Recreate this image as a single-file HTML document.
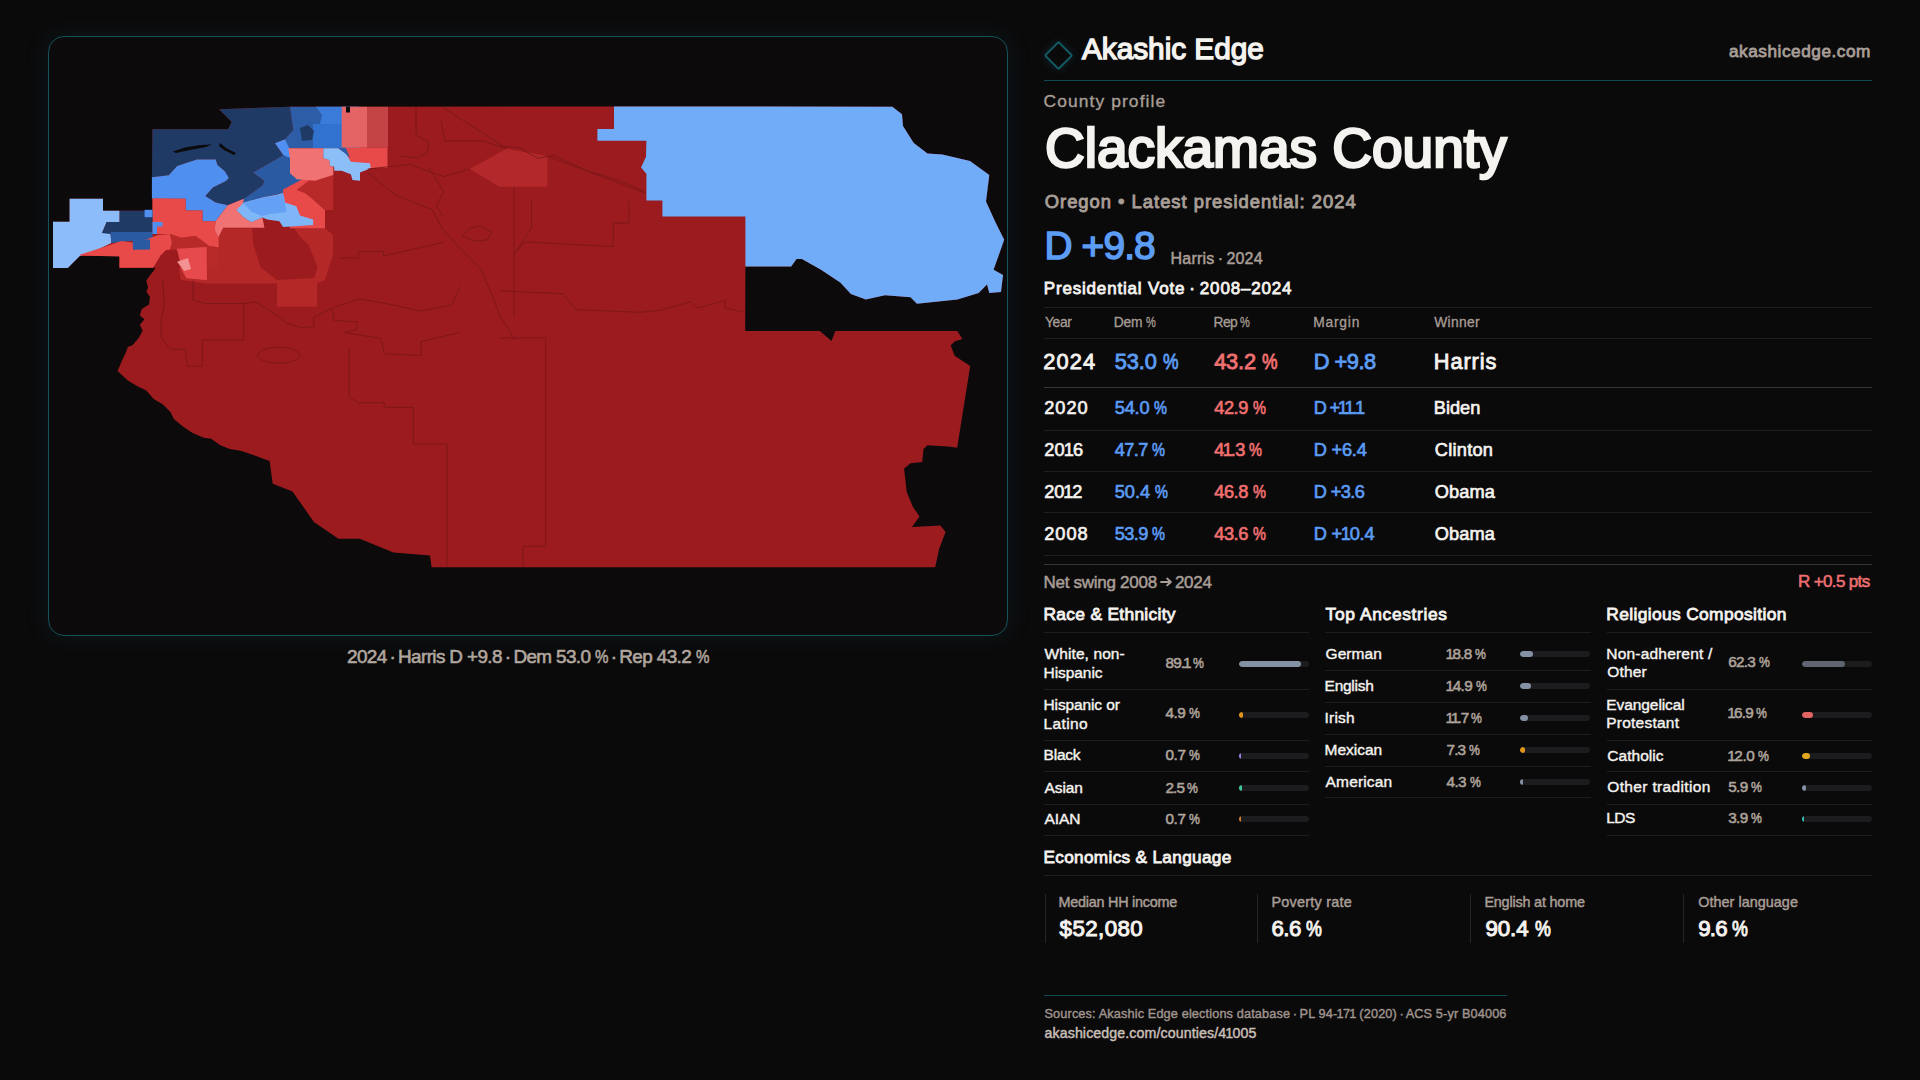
<!DOCTYPE html>
<html><head><meta charset="utf-8"><title>Clackamas County</title>
<style>
html,body{margin:0;padding:0;}
body{width:1920px;height:1080px;background:#0b0a0b;position:relative;overflow:hidden;font-family:"Liberation Sans",sans-serif;}
.t{position:absolute;}
.map{position:absolute;left:0;top:0;}
.ln{position:absolute;height:1px;}
</style></head><body>
<div style="position:absolute;left:48px;top:36px;width:958px;height:598px;border:1px solid #14525c;border-radius:16px;background:#0c0a0b;box-shadow:0 0 22px 2px rgba(20,90,100,0.16);"></div>
<div style="position:absolute;left:1048px;top:45.3px;width:17px;height:17px;border:2px solid #125a63;transform:rotate(45deg);border-radius:2px;box-shadow:0 0 10px rgba(20,110,120,0.25);"></div>
<div class="ln" style="left:1044px;top:80px;width:828px;height:1px;background:#0f4a53;"></div>
<div class="ln" style="left:1044px;top:307px;width:828px;height:1px;background:#201e20;"></div>
<div class="ln" style="left:1044px;top:338px;width:828px;height:1px;background:#201e20;"></div>
<div class="ln" style="left:1044px;top:430px;width:828px;height:1px;background:#201e20;"></div>
<div class="ln" style="left:1044px;top:471px;width:828px;height:1px;background:#201e20;"></div>
<div class="ln" style="left:1044px;top:512px;width:828px;height:1px;background:#201e20;"></div>
<div class="ln" style="left:1044px;top:555px;width:828px;height:1px;background:#201e20;"></div>
<div class="ln" style="left:1044px;top:387px;width:828px;height:1px;background:#363436;"></div>
<div class="ln" style="left:1044px;top:564px;width:828px;height:1px;background:#363436;"></div>
<div class="ln" style="left:1044px;top:632px;width:265.3px;height:1px;background:#1f1d1f;"></div>
<div class="ln" style="left:1044px;top:689px;width:265.3px;height:1px;background:#1f1d1f;"></div>
<div class="ln" style="left:1044px;top:740px;width:265.3px;height:1px;background:#1f1d1f;"></div>
<div class="ln" style="left:1044px;top:771px;width:265.3px;height:1px;background:#1f1d1f;"></div>
<div class="ln" style="left:1044px;top:804px;width:265.3px;height:1px;background:#1f1d1f;"></div>
<div class="ln" style="left:1044px;top:835px;width:265.3px;height:1px;background:#1f1d1f;"></div>
<div class="ln" style="left:1325.3px;top:632px;width:265.3px;height:1px;background:#1f1d1f;"></div>
<div class="ln" style="left:1325.3px;top:670px;width:265.3px;height:1px;background:#1f1d1f;"></div>
<div class="ln" style="left:1325.3px;top:702px;width:265.3px;height:1px;background:#1f1d1f;"></div>
<div class="ln" style="left:1325.3px;top:734px;width:265.3px;height:1px;background:#1f1d1f;"></div>
<div class="ln" style="left:1325.3px;top:766px;width:265.3px;height:1px;background:#1f1d1f;"></div>
<div class="ln" style="left:1325.3px;top:797px;width:265.3px;height:1px;background:#1f1d1f;"></div>
<div class="ln" style="left:1606.7px;top:632px;width:265.3px;height:1px;background:#1f1d1f;"></div>
<div class="ln" style="left:1606.7px;top:689px;width:265.3px;height:1px;background:#1f1d1f;"></div>
<div class="ln" style="left:1606.7px;top:740px;width:265.3px;height:1px;background:#1f1d1f;"></div>
<div class="ln" style="left:1606.7px;top:771px;width:265.3px;height:1px;background:#1f1d1f;"></div>
<div class="ln" style="left:1606.7px;top:804px;width:265.3px;height:1px;background:#1f1d1f;"></div>
<div class="ln" style="left:1606.7px;top:835px;width:265.3px;height:1px;background:#1f1d1f;"></div>
<div style="position:absolute;left:1239px;top:661px;width:70px;height:6px;border-radius:3px;background:#1c1b1d;overflow:hidden;"><div style="width:62.4px;height:6px;border-radius:3px;background:#8491a4;"></div></div>
<div style="position:absolute;left:1239px;top:712px;width:70px;height:6px;border-radius:3px;background:#1c1b1d;overflow:hidden;"><div style="width:4.4px;height:6px;border-radius:3px;background:#e0961a;"></div></div>
<div style="position:absolute;left:1239px;top:752.7px;width:70px;height:6px;border-radius:3px;background:#1c1b1d;overflow:hidden;"><div style="width:1.5px;height:6px;border-radius:3px;background:#9b7fe0;"></div></div>
<div style="position:absolute;left:1239px;top:785px;width:70px;height:6px;border-radius:3px;background:#1c1b1d;overflow:hidden;"><div style="width:2.5px;height:6px;border-radius:3px;background:#3cc8a0;"></div></div>
<div style="position:absolute;left:1239px;top:815.7px;width:70px;height:6px;border-radius:3px;background:#1c1b1d;overflow:hidden;"><div style="width:1.5px;height:6px;border-radius:3px;background:#d0802a;"></div></div>
<div style="position:absolute;left:1520.3px;top:650.8px;width:70px;height:6px;border-radius:3px;background:#1c1b1d;overflow:hidden;"><div style="width:13.2px;height:6px;border-radius:3px;background:#8491a4;"></div></div>
<div style="position:absolute;left:1520.3px;top:682.8px;width:70px;height:6px;border-radius:3px;background:#1c1b1d;overflow:hidden;"><div style="width:10.4px;height:6px;border-radius:3px;background:#8491a4;"></div></div>
<div style="position:absolute;left:1520.3px;top:714.9px;width:70px;height:6px;border-radius:3px;background:#1c1b1d;overflow:hidden;"><div style="width:8.2px;height:6px;border-radius:3px;background:#8491a4;"></div></div>
<div style="position:absolute;left:1520.3px;top:746.9px;width:70px;height:6px;border-radius:3px;background:#1c1b1d;overflow:hidden;"><div style="width:5.1px;height:6px;border-radius:3px;background:#e0961a;"></div></div>
<div style="position:absolute;left:1520.3px;top:778.9px;width:70px;height:6px;border-radius:3px;background:#1c1b1d;overflow:hidden;"><div style="width:3px;height:6px;border-radius:3px;background:#8491a4;"></div></div>
<div style="position:absolute;left:1801.7px;top:661px;width:70px;height:6px;border-radius:3px;background:#1c1b1d;overflow:hidden;"><div style="width:43.6px;height:6px;border-radius:3px;background:#5f6672;"></div></div>
<div style="position:absolute;left:1801.7px;top:712px;width:70px;height:6px;border-radius:3px;background:#1c1b1d;overflow:hidden;"><div style="width:11.8px;height:6px;border-radius:3px;background:#e06464;"></div></div>
<div style="position:absolute;left:1801.7px;top:753px;width:70px;height:6px;border-radius:3px;background:#1c1b1d;overflow:hidden;"><div style="width:8.4px;height:6px;border-radius:3px;background:#e0a820;"></div></div>
<div style="position:absolute;left:1801.7px;top:784.8px;width:70px;height:6px;border-radius:3px;background:#1c1b1d;overflow:hidden;"><div style="width:4px;height:6px;border-radius:3px;background:#8491a4;"></div></div>
<div style="position:absolute;left:1801.7px;top:815.7px;width:70px;height:6px;border-radius:3px;background:#1c1b1d;overflow:hidden;"><div style="width:2.7px;height:6px;border-radius:3px;background:#30c0b0;"></div></div>
<div class="ln" style="left:1044px;top:875px;width:828px;height:1px;background:#201e20;"></div>
<div style="position:absolute;left:1044.5px;top:894px;width:1px;height:49px;background:#262425;"></div>
<div style="position:absolute;left:1257.4px;top:894px;width:1px;height:49px;background:#262425;"></div>
<div style="position:absolute;left:1470.4px;top:894px;width:1px;height:49px;background:#262425;"></div>
<div style="position:absolute;left:1683.4px;top:894px;width:1px;height:49px;background:#262425;"></div>
<div class="ln" style="left:1044px;top:995px;width:463px;height:1px;background:#0f4a53;"></div>
<svg class="map" width="1920" height="1080" viewBox="0 0 1920 1080"><polygon fill="#9b1b1e" points="219.2,109.2 290.0,106.8 614.0,106.5 892.4,106.7 902.0,114.2 903.0,125.9 913.7,143.0 927.5,153.6 942.4,154.6 970.0,161.0 989.3,174.9 986.0,201.5 995.7,222.8 1004.2,239.8 993.6,269.7 1003.0,275.0 1001.0,292.0 989.3,293.0 987.0,284.6 978.7,293.0 957.4,299.5 916.9,303.7 910.5,297.3 885.0,295.2 865.8,299.5 850.9,294.0 840.2,282.4 821.0,269.7 801.9,259.0 796.5,259.0 791.2,266.5 745.4,266.5 745.2,331.1 819.8,331.1 831.5,341.0 835.4,331.1 957.2,331.1 962.4,338.9 954.6,341.5 950.7,345.4 954.6,355.7 970.2,366.1 957.2,447.8 948.2,446.5 927.4,445.2 923.5,449.0 922.2,462.0 910.6,463.3 904.1,468.5 906.7,491.9 913.2,507.4 919.6,516.5 911.9,526.9 940.4,525.6 945.6,532.0 939.1,548.9 935.2,567.3 431.6,567.3 430.0,555.6 393.4,552.6 359.8,538.8 338.4,538.8 313.9,522.0 292.5,491.4 272.7,483.8 269.6,460.9 266.7,460.0 251.9,454.4 240.7,450.7 229.6,448.9 220.4,445.2 211.1,438.7 203.7,437.8 192.6,433.1 183.3,426.7 174.0,419.3 170.4,411.9 163.0,404.4 153.7,398.9 146.3,390.6 137.0,385.9 127.8,380.4 117.6,371.1 122.2,360.0 125.9,352.6 127.8,347.0 132.4,345.2 138.9,337.8 142.6,330.4 139.8,324.8 144.4,319.3 139.8,315.6 141.7,309.0 149.0,304.4 150.0,297.0 146.3,291.5 148.1,287.8 146.3,280.4 149.0,276.7 153.7,271.1 155.6,267.8 119.6,268.0 119.6,256.0 79.8,256.0 67.8,268.0 53.0,268.0 53.0,221.8 69.6,221.8 69.6,198.7 103.0,198.7 103.0,210.7 152.5,210.7 152.5,129.2 228.3,129.2 231.7,121.7" /><polygon fill="#71acf8" points="614.0,106.5 892.4,106.7 902.0,114.2 903.0,125.9 913.7,143.0 927.5,153.6 942.4,154.6 970.0,161.0 989.3,174.9 986.0,201.5 995.7,222.8 1004.2,239.8 993.6,269.7 1003.0,275.0 1001.0,292.0 989.3,293.0 987.0,284.6 978.7,293.0 957.4,299.5 916.9,303.7 910.5,297.3 885.0,295.2 865.8,299.5 850.9,294.0 840.2,282.4 821.0,269.7 801.9,259.0 796.5,259.0 791.2,266.5 745.4,266.5 745.4,216.4 662.4,216.4 662.4,200.4 646.4,200.4 646.4,173.8 641.0,167.4 646.0,156.8 646.4,140.8 597.4,140.8 597.4,129.0 614.0,129.0" /><polygon fill="#b3292b" points="469.6,169.0 506.7,148.7 547.4,156.0 547.4,186.7 499.0,186.7 485.0,178.0" /><polygon fill="#b52828" points="218.3,228.3 325.0,228.3 333.0,235.0 333.0,255.0 325.0,280.0 317.0,283.0 317.0,306.5 277.0,306.5 277.0,283.6 207.0,283.6 180.7,280.0 177.0,261.7 169.6,248.7 169.6,235.7" /><polygon fill="#9b1b1e" points="251.7,220.0 291.9,224.6 299.0,235.7 308.5,245.0 317.8,267.0 314.0,278.0 277.0,280.0 260.4,267.0 253.0,243.0" /><polygon fill="#e64a4c" points="177.0,248.7 206.7,246.9 206.7,280.0 186.3,278.0 177.0,261.7" /><polygon fill="#f29292" points="177.0,261.7 188.0,258.0 191.0,269.0 184.4,271.0" /><polygon fill="#1f3a64" points="219.2,109.2 290.0,106.7 293.3,130.0 285.0,139.2 275.0,143.3 283.3,155.0 274.7,160.3 253.1,172.5 264.4,181.0 262.5,185.6 243.8,198.8 227.8,205.3 215.6,202.5 205.3,195.9 212.8,187.5 225.9,181.0 228.8,178.1 225.0,171.6 217.5,165.0 215.6,159.4 196.9,159.4 177.2,166.0 168.8,175.3 151.9,177.2 152.5,129.2 228.3,129.2 231.7,121.7" /><polygon fill="#0b0a0c" points="173.0,151.5 185.0,147.5 200.0,145.0 212.0,144.5 206.0,147.0 190.0,150.0 176.0,153.0" /><polygon fill="#0b0a0c" points="220.0,143.0 226.0,148.0 236.0,153.0 234.0,155.0 224.0,150.0 219.0,146.0" /><polygon fill="#2c5da6" points="290.0,106.7 359.0,106.7 359.0,148.3 287.0,148.3 285.0,139.2 293.3,130.0" /><polygon fill="#3272cf" points="313.0,124.0 359.0,124.0 359.0,148.3 313.0,148.3" /><polygon fill="#3a7ad8" points="316.0,106.8 359.0,106.8 359.0,124.0 320.0,124.0 322.0,115.0" /><polygon fill="#1f3a64" points="300.0,128.0 308.0,125.0 314.0,131.0 312.0,140.0 302.0,141.0" /><polygon fill="#4f90f2" points="275.0,143.3 285.0,139.2 290.0,150.0 290.0,160.0 283.3,155.0" /><polygon fill="#2a5aa2" points="253.1,172.5 274.7,160.3 283.3,155.0 290.0,158.0 292.0,160.0 300.0,172.0 306.0,178.1 283.1,193.1 264.4,197.0 243.8,203.0 236.0,210.0 230.0,205.0 243.8,198.8 262.5,185.6 264.4,181.0" /><polygon fill="#4f8ff0" points="151.9,177.2 168.8,175.3 177.2,166.0 196.9,159.4 215.6,159.4 217.5,165.0 225.0,171.6 228.8,178.1 225.9,181.0 212.8,187.5 205.3,195.9 215.6,202.5 227.8,205.3 215.6,221.2 202.5,221.2 202.5,210.5 185.6,210.5 185.6,198.8 151.9,198.8" /><polygon fill="#e84a4a" points="152.5,198.3 185.6,198.8 185.6,210.5 202.5,210.5 202.5,221.2 215.6,221.2 214.7,229.7 218.4,237.2 218.8,247.2 209.4,246.2 201.9,240.6 195.3,235.9 181.2,237.8 170.0,234.0 152.5,234.0" /><polygon fill="#e84a4a" points="283.1,189.4 304.7,178.1 312.0,176.0 315.0,190.0 311.7,198.3 325.0,210.0 325.0,228.3 290.0,228.3 283.1,205.0" /><polygon fill="#b82a2a" points="296.7,190.0 311.7,178.3 333.3,175.0 333.3,210.0 325.0,210.0 311.7,198.3 305.0,193.3" /><polygon fill="#f07272" points="227.8,205.3 243.8,198.8 242.8,205.3 236.3,210.0 243.8,217.5 251.3,222.2 262.5,217.5 264.4,227.8 223.1,227.8 218.4,237.2 214.7,229.7 215.6,221.2" /><polygon fill="#7fb6f8" points="236.3,210.0 243.8,202.5 264.4,196.9 275.6,195.0 283.1,193.1 285.0,202.5 296.3,206.3 300.0,215.6 313.1,219.4 313.1,225.0 283.1,226.9 279.4,221.2 267.2,219.4 262.5,217.5 251.3,222.2 243.8,217.5" /><polygon fill="#64a0f4" points="243.0,203.0 264.4,197.5 283.1,194.0 285.0,203.0 286.5,212.0 270.0,214.0 262.0,216.0 252.0,212.0" /><polygon fill="#f07272" points="288.3,148.3 323.3,148.3 323.3,158.3 329.2,160.0 330.0,165.8 333.3,166.7 333.3,175.0 325.0,177.5 315.0,180.8 305.0,180.0 296.7,179.2 290.0,173.3 290.0,158.3" /><polygon fill="#e84a4a" points="345.0,147.5 387.5,147.5 387.5,168.0 370.0,168.0 350.0,165.0" /><polygon fill="#8cbef8" points="323.3,148.3 338.3,148.3 345.8,153.3 350.8,161.7 370.0,163.3 370.8,168.3 360.0,172.5 360.0,180.8 352.5,180.0 350.8,174.2 341.7,170.8 334.2,170.8 334.2,166.7 330.0,165.8 329.2,160.0 323.3,158.3" /><polygon fill="#2c5da6" points="338.3,148.3 346.0,148.3 350.0,158.0 346.0,154.0" /><polygon fill="#c44446" points="367.0,106.8 388.0,106.8 388.0,147.5 367.0,147.5" /><polygon fill="#e46466" points="341.7,106.8 367.0,106.8 367.0,147.5 341.7,147.5" /><polygon fill="#0b0a0c" points="346.0,106.5 350.0,106.5 350.0,112.5 346.0,112.5" /><polygon fill="#8cbcfa" points="69.6,198.7 103.0,198.7 103.0,210.7 119.6,210.7 119.6,221.9 106.7,221.9 102.0,233.0 110.4,232.0 111.3,243.1 95.6,250.6 79.8,256.1 67.8,268.0 53.0,268.0 53.0,221.8 69.6,221.8" /><polygon fill="#1f3a64" points="119.6,210.7 152.5,210.7 152.5,234.0 110.4,234.0 102.0,233.0 106.7,221.9 119.6,221.9" /><polygon fill="#2a5aa2" points="110.4,232.0 152.5,232.0 152.5,240.0 130.0,241.0 111.3,243.1" /><polygon fill="#4f8ff0" points="144.6,209.8 152.5,209.8 152.5,217.2 144.6,217.2" /><polygon fill="#e84a4a" points="79.7,254.7 106.2,246.2 121.2,241.1 132.5,242.5 143.7,240.6 157.8,235.0 170.0,234.0 172.0,242.5 170.0,250.0 160.6,255.6 153.1,267.8 119.4,267.8 119.4,256.6 80.0,255.6" /><polygon fill="#b82a2a" points="170.0,234.0 181.2,237.8 195.3,235.9 201.9,240.6 209.4,246.2 218.8,247.2 218.8,268.0 180.0,268.0 172.0,262.0 170.0,250.0 172.0,242.5" /><polygon fill="#9b1b1e" points="155.6,267.8 160.6,255.6 166.0,250.0 176.0,249.5 180.0,256.0 179.0,282.0 149.0,282.0 149.0,276.7 153.7,271.1" /><polygon fill="#e64a4c" points="177.0,248.7 206.7,246.9 206.7,280.0 186.3,278.0 180.0,261.7" /><polygon fill="#f29292" points="177.0,261.7 188.0,258.0 191.0,269.0 184.4,271.0" /><polygon fill="#4f8ff0" points="152.5,222.0 162.5,222.0 162.5,226.6 157.0,226.6 157.0,234.0 152.5,234.0" /><polygon fill="#2a5aa2" points="132.6,240.0 150.0,239.4 150.0,249.6 133.0,249.8" /><polyline fill="none" stroke="#7c1619" stroke-width="0.9" points="416.0,107.0 416.0,135.0 428.9,141.5 427.0,152.4 417.8,158.0 401.0,156.0"/><polyline fill="none" stroke="#7c1619" stroke-width="0.9" points="442.8,107.0 506.7,148.7"/><polyline fill="none" stroke="#7c1619" stroke-width="0.9" points="441.0,121.0 445.0,141.0 484.0,141.0 505.0,148.0"/><polyline fill="none" stroke="#7c1619" stroke-width="0.9" points="547.4,156.0 645.6,193.0"/><polyline fill="none" stroke="#7c1619" stroke-width="0.9" points="367.8,169.0 410.4,164.4 427.0,171.0 443.7,176.5 469.6,169.0"/><polyline fill="none" stroke="#7c1619" stroke-width="0.9" points="367.8,172.8 395.6,195.0 432.6,209.8 441.9,228.3 454.8,243.1 480.7,269.0 491.9,295.0 500.0,316.0 515.0,340.0"/><polyline fill="none" stroke="#7c1619" stroke-width="0.9" points="428.9,168.0 443.7,191.3 436.3,206.0 443.7,217.2"/><polyline fill="none" stroke="#7c1619" stroke-width="0.9" points="514.0,187.6 514.0,316.0"/><polyline fill="none" stroke="#7c1619" stroke-width="0.9" points="531.5,199.4 531.5,227.7 514.0,254.5"/><polyline fill="none" stroke="#7c1619" stroke-width="0.9" points="629.0,201.0 629.0,223.0 613.3,223.0 613.3,246.6 525.0,241.9 514.0,254.3"/><polyline fill="none" stroke="#7c1619" stroke-width="0.9" points="340.0,258.0 358.5,258.0 358.5,251.5 383.5,251.5 383.5,256.0 443.7,242.2"/><polyline fill="none" stroke="#7c1619" stroke-width="0.9" points="500.0,290.7 563.0,293.8 575.5,309.6 640.0,312.3 661.3,310.1 691.1,301.6 697.5,308.0 725.2,300.5 725.2,308.0 744.4,312.3"/><polyline fill="none" stroke="#7c1619" stroke-width="0.9" points="500.0,338.0 545.7,338.0 545.7,546.3 522.9,546.3 522.9,567.4"/><polyline fill="none" stroke="#7c1619" stroke-width="0.9" points="500.0,146.0 518.9,147.5 537.8,158.5 553.5,155.3 588.1,171.0 619.6,180.5 644.8,191.5"/><polyline fill="none" stroke="#7c1619" stroke-width="0.9" points="162.7,279.0 164.2,305.0 161.1,320.3 161.1,337.1 170.3,349.3 185.6,349.3 187.1,366.1 202.4,366.1 202.4,340.2 243.6,340.2 243.6,303.5"/><polyline fill="none" stroke="#7c1619" stroke-width="0.9" points="193.2,280.6 193.2,300.4 205.4,303.5 243.6,303.5 255.9,302.0 277.3,315.7 286.4,323.3 303.2,328.0 313.9,326.4 313.9,317.2 332.3,308.1 359.8,298.9 393.4,305.0 420.9,311.1 451.5,305.0 460.0,286.7"/><polyline fill="none" stroke="#7c1619" stroke-width="0.9" points="332.3,308.1 333.8,320.3 356.7,321.8 356.7,329.5 344.5,332.5 381.2,338.6 384.2,353.9 420.9,355.4 420.9,341.7 460.0,332.5"/><polyline fill="none" stroke="#7c1619" stroke-width="0.9" points="349.1,347.8 349.1,396.7 358.3,402.8 384.2,402.8 384.2,407.4 413.3,407.4 413.3,444.1 446.9,444.1 446.9,567.3"/><ellipse cx="278.8" cy="355.2" rx="21" ry="8" fill="none" stroke="#7c1619" stroke-width="0.9"/><polyline fill="none" stroke="#7c1619" stroke-width="0.9" points="470.0,228.0 480.0,226.0 492.0,232.0 487.0,240.0 475.0,241.0 462.0,236.0 470.0,228.0"/></svg>
<div class=t style="left:1082.00px;top:34.00px;color:#f5f3ef;font-family:'Liberation Sans',sans-serif;font-size:29.8px;line-height:29.8px;font-weight:400;letter-spacing:-0.036px;white-space:nowrap;-webkit-text-stroke:1.4px currentColor;">Akashic Edge</div>
<div class=t style="left:1729.00px;top:43.00px;color:#a89e96;font-family:'Liberation Sans',sans-serif;font-size:17.2px;line-height:17.2px;font-weight:400;letter-spacing:0.543px;white-space:nowrap;-webkit-text-stroke:0.8px currentColor;">akashicedge.com</div>
<div class=t style="left:1043.50px;top:93.00px;color:#a89e96;font-family:'Liberation Sans',sans-serif;font-size:17.4px;line-height:17.4px;font-weight:400;letter-spacing:1.108px;white-space:nowrap;-webkit-text-stroke:0.35px currentColor;">County profile</div>
<div class=t style="left:1045.00px;top:121.00px;color:#f5f3ef;font-family:'Liberation Sans',sans-serif;font-size:55px;line-height:55px;font-weight:400;letter-spacing:0.000px;white-space:nowrap;-webkit-text-stroke:2.6px currentColor;">Clackamas County</div>
<div class=t style="left:1044.75px;top:193.00px;color:#a89e96;font-family:'Liberation Sans',sans-serif;font-size:18.4px;line-height:18.4px;font-weight:400;letter-spacing:0.985px;white-space:nowrap;-webkit-text-stroke:0.9px currentColor;">Oregon • Latest presidential: 2024</div>
<div class=t style="left:1044.50px;top:227.00px;color:#5b9cf5;font-family:'Liberation Sans',sans-serif;font-size:38.8px;line-height:38.8px;font-weight:400;letter-spacing:-0.840px;white-space:nowrap;-webkit-text-stroke:1.5px currentColor;">D +9.8</div>
<div class=t style="left:1170.60px;top:251.00px;color:#a89e96;font-family:'Liberation Sans',sans-serif;font-size:16px;line-height:16px;font-weight:400;letter-spacing:0.200px;white-space:nowrap;-webkit-text-stroke:0.5px currentColor;">Harris <span style="margin:0 -0.09em">·</span> 2024</div>
<div class=t style="left:1043.75px;top:280.00px;color:#f5f3ef;font-family:'Liberation Sans',sans-serif;font-size:17px;line-height:17px;font-weight:400;letter-spacing:0.821px;white-space:nowrap;-webkit-text-stroke:0.8px currentColor;">Presidential Vote <span style="margin:0 -0.09em">·</span> 2008–2024</div>
<div class=t style="left:1045.00px;top:316.00px;color:#a89e96;font-family:'Liberation Sans',sans-serif;font-size:13.8px;line-height:13.8px;font-weight:400;letter-spacing:-0.333px;white-space:nowrap;-webkit-text-stroke:0.3px currentColor;">Year</div>
<div class=t style="left:1113.75px;top:316.00px;color:#a89e96;font-family:'Liberation Sans',sans-serif;font-size:13.8px;line-height:13.8px;font-weight:400;letter-spacing:-0.150px;white-space:nowrap;-webkit-text-stroke:0.3px currentColor;">Dem <span style="display:inline-block;transform:scaleX(0.8);transform-origin:0 0;margin-right:-0.178em">%</span></div>
<div class=t style="left:1213.60px;top:316.00px;color:#a89e96;font-family:'Liberation Sans',sans-serif;font-size:13.8px;line-height:13.8px;font-weight:400;letter-spacing:-0.600px;white-space:nowrap;-webkit-text-stroke:0.3px currentColor;">Rep <span style="display:inline-block;transform:scaleX(0.8);transform-origin:0 0;margin-right:-0.178em">%</span></div>
<div class=t style="left:1313.20px;top:316.00px;color:#a89e96;font-family:'Liberation Sans',sans-serif;font-size:13.8px;line-height:13.8px;font-weight:400;letter-spacing:0.800px;white-space:nowrap;-webkit-text-stroke:0.3px currentColor;">Margin</div>
<div class=t style="left:1434.20px;top:316.00px;color:#a89e96;font-family:'Liberation Sans',sans-serif;font-size:13.8px;line-height:13.8px;font-weight:400;letter-spacing:0.320px;white-space:nowrap;-webkit-text-stroke:0.3px currentColor;">Winner</div>
<div class=t style="left:1043.25px;top:351.00px;color:#f5f3ef;font-family:'Liberation Sans',sans-serif;font-size:21.8px;line-height:21.8px;font-weight:400;letter-spacing:1.167px;white-space:nowrap;-webkit-text-stroke:0.85px currentColor;">2024</div>
<div class=t style="left:1114.75px;top:351.00px;color:#5b9cf5;font-family:'Liberation Sans',sans-serif;font-size:21.8px;line-height:21.8px;font-weight:400;letter-spacing:-0.100px;white-space:nowrap;-webkit-text-stroke:0.85px currentColor;">53.0 <span style="display:inline-block;transform:scaleX(0.8);transform-origin:0 0;margin-right:-0.178em">%</span></div>
<div class=t style="left:1214.20px;top:351.00px;color:#f07070;font-family:'Liberation Sans',sans-serif;font-size:21.8px;line-height:21.8px;font-weight:400;letter-spacing:-0.200px;white-space:nowrap;-webkit-text-stroke:0.85px currentColor;">43.2 <span style="display:inline-block;transform:scaleX(0.8);transform-origin:0 0;margin-right:-0.178em">%</span></div>
<div class=t style="left:1313.75px;top:351.00px;color:#5b9cf5;font-family:'Liberation Sans',sans-serif;font-size:21.8px;line-height:21.8px;font-weight:400;letter-spacing:-0.500px;white-space:nowrap;-webkit-text-stroke:0.85px currentColor;">D +9.8</div>
<div class=t style="left:1433.75px;top:351.00px;color:#f5f3ef;font-family:'Liberation Sans',sans-serif;font-size:21.8px;line-height:21.8px;font-weight:400;letter-spacing:0.900px;white-space:nowrap;-webkit-text-stroke:0.85px currentColor;">Harris</div>
<div class=t style="left:1044.25px;top:399.00px;color:#f5f3ef;font-family:'Liberation Sans',sans-serif;font-size:18.2px;line-height:18.2px;font-weight:400;letter-spacing:1.000px;white-space:nowrap;-webkit-text-stroke:0.65px currentColor;">2020</div>
<div class=t style="left:1114.75px;top:399.00px;color:#5b9cf5;font-family:'Liberation Sans',sans-serif;font-size:18.2px;line-height:18.2px;font-weight:400;letter-spacing:-0.200px;white-space:nowrap;-webkit-text-stroke:0.65px currentColor;">54.0 <span style="display:inline-block;transform:scaleX(0.8);transform-origin:0 0;margin-right:-0.178em">%</span></div>
<div class=t style="left:1214.20px;top:399.00px;color:#f07070;font-family:'Liberation Sans',sans-serif;font-size:18.2px;line-height:18.2px;font-weight:400;letter-spacing:-0.400px;white-space:nowrap;-webkit-text-stroke:0.65px currentColor;">42.9 <span style="display:inline-block;transform:scaleX(0.8);transform-origin:0 0;margin-right:-0.178em">%</span></div>
<div class=t style="left:1313.75px;top:399.00px;color:#5b9cf5;font-family:'Liberation Sans',sans-serif;font-size:18.2px;line-height:18.2px;font-weight:400;letter-spacing:-1.167px;white-space:nowrap;-webkit-text-stroke:0.65px currentColor;">D +<span style="margin:0 -0.06em 0 -0.07em">1</span><span style="margin:0 -0.06em 0 -0.07em">1</span>.<span style="margin:0 -0.06em 0 -0.07em">1</span></div>
<div class=t style="left:1433.75px;top:399.00px;color:#f5f3ef;font-family:'Liberation Sans',sans-serif;font-size:18.2px;line-height:18.2px;font-weight:400;letter-spacing:0.000px;white-space:nowrap;-webkit-text-stroke:0.65px currentColor;">Biden</div>
<div class=t style="left:1044.25px;top:441.00px;color:#f5f3ef;font-family:'Liberation Sans',sans-serif;font-size:18.2px;line-height:18.2px;font-weight:400;letter-spacing:0.200px;white-space:nowrap;-webkit-text-stroke:0.65px currentColor;">20<span style="margin:0 -0.06em 0 -0.07em">1</span>6</div>
<div class=t style="left:1114.75px;top:441.00px;color:#5b9cf5;font-family:'Liberation Sans',sans-serif;font-size:18.2px;line-height:18.2px;font-weight:400;letter-spacing:-0.600px;white-space:nowrap;-webkit-text-stroke:0.65px currentColor;">47.7 <span style="display:inline-block;transform:scaleX(0.8);transform-origin:0 0;margin-right:-0.178em">%</span></div>
<div class=t style="left:1214.20px;top:441.00px;color:#f07070;font-family:'Liberation Sans',sans-serif;font-size:18.2px;line-height:18.2px;font-weight:400;letter-spacing:-0.640px;white-space:nowrap;-webkit-text-stroke:0.65px currentColor;">4<span style="margin:0 -0.06em 0 -0.07em">1</span>.3 <span style="display:inline-block;transform:scaleX(0.8);transform-origin:0 0;margin-right:-0.178em">%</span></div>
<div class=t style="left:1313.75px;top:441.00px;color:#5b9cf5;font-family:'Liberation Sans',sans-serif;font-size:18.2px;line-height:18.2px;font-weight:400;letter-spacing:-0.200px;white-space:nowrap;-webkit-text-stroke:0.65px currentColor;">D +6.4</div>
<div class=t style="left:1434.75px;top:441.00px;color:#f5f3ef;font-family:'Liberation Sans',sans-serif;font-size:18.2px;line-height:18.2px;font-weight:400;letter-spacing:0.267px;white-space:nowrap;-webkit-text-stroke:0.65px currentColor;">Clinton</div>
<div class=t style="left:1044.25px;top:483.00px;color:#f5f3ef;font-family:'Liberation Sans',sans-serif;font-size:18.2px;line-height:18.2px;font-weight:400;letter-spacing:0.000px;white-space:nowrap;-webkit-text-stroke:0.65px currentColor;">20<span style="margin:0 -0.06em 0 -0.07em">1</span>2</div>
<div class=t style="left:1114.75px;top:483.00px;color:#5b9cf5;font-family:'Liberation Sans',sans-serif;font-size:18.2px;line-height:18.2px;font-weight:400;letter-spacing:0.000px;white-space:nowrap;-webkit-text-stroke:0.65px currentColor;">50.4 <span style="display:inline-block;transform:scaleX(0.8);transform-origin:0 0;margin-right:-0.178em">%</span></div>
<div class=t style="left:1214.20px;top:483.00px;color:#f07070;font-family:'Liberation Sans',sans-serif;font-size:18.2px;line-height:18.2px;font-weight:400;letter-spacing:-0.400px;white-space:nowrap;-webkit-text-stroke:0.65px currentColor;">46.8 <span style="display:inline-block;transform:scaleX(0.8);transform-origin:0 0;margin-right:-0.178em">%</span></div>
<div class=t style="left:1313.75px;top:483.00px;color:#5b9cf5;font-family:'Liberation Sans',sans-serif;font-size:18.2px;line-height:18.2px;font-weight:400;letter-spacing:-0.600px;white-space:nowrap;-webkit-text-stroke:0.65px currentColor;">D +3.6</div>
<div class=t style="left:1434.75px;top:483.00px;color:#f5f3ef;font-family:'Liberation Sans',sans-serif;font-size:18.2px;line-height:18.2px;font-weight:400;letter-spacing:0.125px;white-space:nowrap;-webkit-text-stroke:0.65px currentColor;">Obama</div>
<div class=t style="left:1044.25px;top:525.00px;color:#f5f3ef;font-family:'Liberation Sans',sans-serif;font-size:18.2px;line-height:18.2px;font-weight:400;letter-spacing:1.000px;white-space:nowrap;-webkit-text-stroke:0.65px currentColor;">2008</div>
<div class=t style="left:1114.75px;top:525.00px;color:#5b9cf5;font-family:'Liberation Sans',sans-serif;font-size:18.2px;line-height:18.2px;font-weight:400;letter-spacing:-0.600px;white-space:nowrap;-webkit-text-stroke:0.65px currentColor;">53.9 <span style="display:inline-block;transform:scaleX(0.8);transform-origin:0 0;margin-right:-0.178em">%</span></div>
<div class=t style="left:1214.20px;top:525.00px;color:#f07070;font-family:'Liberation Sans',sans-serif;font-size:18.2px;line-height:18.2px;font-weight:400;letter-spacing:-0.400px;white-space:nowrap;-webkit-text-stroke:0.65px currentColor;">43.6 <span style="display:inline-block;transform:scaleX(0.8);transform-origin:0 0;margin-right:-0.178em">%</span></div>
<div class=t style="left:1313.75px;top:525.00px;color:#5b9cf5;font-family:'Liberation Sans',sans-serif;font-size:18.2px;line-height:18.2px;font-weight:400;letter-spacing:-0.167px;white-space:nowrap;-webkit-text-stroke:0.65px currentColor;">D +<span style="margin:0 -0.06em 0 -0.07em">1</span>0.4</div>
<div class=t style="left:1434.75px;top:525.00px;color:#f5f3ef;font-family:'Liberation Sans',sans-serif;font-size:18.2px;line-height:18.2px;font-weight:400;letter-spacing:0.125px;white-space:nowrap;-webkit-text-stroke:0.65px currentColor;">Obama</div>
<div class=t style="left:1043.50px;top:574.00px;color:#a89e96;font-family:'Liberation Sans',sans-serif;font-size:17px;line-height:17px;font-weight:400;letter-spacing:-0.275px;white-space:nowrap;-webkit-text-stroke:0.5px currentColor;">Net swing 2008 <svg style="display:inline-block;width:0.74em;height:0.7em;margin:0 -0.1em" viewBox="0 0 74 70"><path d="M6 35H64M42 15L64 35L42 55" fill="none" stroke="currentColor" stroke-width="11" stroke-linecap="round" stroke-linejoin="round"/></svg> 2024</div>
<div class=t style="left:1798.00px;top:573.00px;color:#f07070;font-family:'Liberation Sans',sans-serif;font-size:17px;line-height:17px;font-weight:400;letter-spacing:-0.644px;white-space:nowrap;-webkit-text-stroke:0.55px currentColor;">R +0.5 pts</div>
<div class=t style="left:1043.50px;top:606.00px;color:#f5f3ef;font-family:'Liberation Sans',sans-serif;font-size:17.4px;line-height:17.4px;font-weight:400;letter-spacing:0.293px;white-space:nowrap;-webkit-text-stroke:0.8px currentColor;">Race &amp; Ethnicity</div>
<div class=t style="left:1325.60px;top:606.00px;color:#f5f3ef;font-family:'Liberation Sans',sans-serif;font-size:17.4px;line-height:17.4px;font-weight:400;letter-spacing:0.631px;white-space:nowrap;-webkit-text-stroke:0.8px currentColor;">Top Ancestries</div>
<div class=t style="left:1606.30px;top:606.00px;color:#f5f3ef;font-family:'Liberation Sans',sans-serif;font-size:17.4px;line-height:17.4px;font-weight:400;letter-spacing:0.350px;white-space:nowrap;-webkit-text-stroke:0.8px currentColor;">Religious Composition</div>
<div class=t style="left:1044.50px;top:646.00px;color:#f5f3ef;font-family:'Liberation Sans',sans-serif;font-size:15.5px;line-height:15.5px;font-weight:400;letter-spacing:0.100px;white-space:nowrap;-webkit-text-stroke:0.4px currentColor;">White, non-</div>
<div class=t style="left:1043.50px;top:665.00px;color:#f5f3ef;font-family:'Liberation Sans',sans-serif;font-size:15.5px;line-height:15.5px;font-weight:400;letter-spacing:-0.057px;white-space:nowrap;-webkit-text-stroke:0.4px currentColor;">Hispanic</div>
<div class=t style="left:1165.50px;top:655.00px;color:#aea39b;font-family:'Liberation Sans',sans-serif;font-size:15.3px;line-height:15.3px;font-weight:400;letter-spacing:-0.880px;white-space:nowrap;-webkit-text-stroke:0.55px currentColor;">89.<span style="margin:0 -0.06em 0 -0.07em">1</span> <span style="display:inline-block;transform:scaleX(0.8);transform-origin:0 0;margin-right:-0.178em">%</span></div>
<div class=t style="left:1043.50px;top:697.00px;color:#f5f3ef;font-family:'Liberation Sans',sans-serif;font-size:15.5px;line-height:15.5px;font-weight:400;letter-spacing:-0.120px;white-space:nowrap;-webkit-text-stroke:0.4px currentColor;">Hispanic or</div>
<div class=t style="left:1043.50px;top:716.00px;color:#f5f3ef;font-family:'Liberation Sans',sans-serif;font-size:15.5px;line-height:15.5px;font-weight:400;letter-spacing:0.360px;white-space:nowrap;-webkit-text-stroke:0.4px currentColor;">Latino</div>
<div class=t style="left:1165.50px;top:705.00px;color:#aea39b;font-family:'Liberation Sans',sans-serif;font-size:15.3px;line-height:15.3px;font-weight:400;letter-spacing:-0.550px;white-space:nowrap;-webkit-text-stroke:0.55px currentColor;">4.9 <span style="display:inline-block;transform:scaleX(0.8);transform-origin:0 0;margin-right:-0.178em">%</span></div>
<div class=t style="left:1043.50px;top:747.00px;color:#f5f3ef;font-family:'Liberation Sans',sans-serif;font-size:15.5px;line-height:15.5px;font-weight:400;letter-spacing:-0.200px;white-space:nowrap;-webkit-text-stroke:0.4px currentColor;">Black</div>
<div class=t style="left:1165.50px;top:747.00px;color:#aea39b;font-family:'Liberation Sans',sans-serif;font-size:15.3px;line-height:15.3px;font-weight:400;letter-spacing:-0.400px;white-space:nowrap;-webkit-text-stroke:0.55px currentColor;">0.7 <span style="display:inline-block;transform:scaleX(0.8);transform-origin:0 0;margin-right:-0.178em">%</span></div>
<div class=t style="left:1044.50px;top:780.00px;color:#f5f3ef;font-family:'Liberation Sans',sans-serif;font-size:15.5px;line-height:15.5px;font-weight:400;letter-spacing:-0.100px;white-space:nowrap;-webkit-text-stroke:0.4px currentColor;">Asian</div>
<div class=t style="left:1165.50px;top:780.00px;color:#aea39b;font-family:'Liberation Sans',sans-serif;font-size:15.3px;line-height:15.3px;font-weight:400;letter-spacing:-0.900px;white-space:nowrap;-webkit-text-stroke:0.55px currentColor;">2.5 <span style="display:inline-block;transform:scaleX(0.8);transform-origin:0 0;margin-right:-0.178em">%</span></div>
<div class=t style="left:1044.50px;top:811.00px;color:#f5f3ef;font-family:'Liberation Sans',sans-serif;font-size:15.5px;line-height:15.5px;font-weight:400;letter-spacing:-0.067px;white-space:nowrap;-webkit-text-stroke:0.4px currentColor;">AIAN</div>
<div class=t style="left:1165.50px;top:811.00px;color:#aea39b;font-family:'Liberation Sans',sans-serif;font-size:15.3px;line-height:15.3px;font-weight:400;letter-spacing:-0.400px;white-space:nowrap;-webkit-text-stroke:0.55px currentColor;">0.7 <span style="display:inline-block;transform:scaleX(0.8);transform-origin:0 0;margin-right:-0.178em">%</span></div>
<div class=t style="left:1325.60px;top:646.00px;color:#f5f3ef;font-family:'Liberation Sans',sans-serif;font-size:15.5px;line-height:15.5px;font-weight:400;letter-spacing:0.040px;white-space:nowrap;-webkit-text-stroke:0.4px currentColor;">German</div>
<div class=t style="left:1446.60px;top:646.00px;color:#aea39b;font-family:'Liberation Sans',sans-serif;font-size:15.3px;line-height:15.3px;font-weight:400;letter-spacing:-0.720px;white-space:nowrap;-webkit-text-stroke:0.55px currentColor;"><span style="margin:0 -0.06em 0 -0.07em">1</span>8.8 <span style="display:inline-block;transform:scaleX(0.8);transform-origin:0 0;margin-right:-0.178em">%</span></div>
<div class=t style="left:1324.60px;top:678.00px;color:#f5f3ef;font-family:'Liberation Sans',sans-serif;font-size:15.5px;line-height:15.5px;font-weight:400;letter-spacing:-0.267px;white-space:nowrap;-webkit-text-stroke:0.4px currentColor;">English</div>
<div class=t style="left:1446.60px;top:678.00px;color:#aea39b;font-family:'Liberation Sans',sans-serif;font-size:15.3px;line-height:15.3px;font-weight:400;letter-spacing:-0.520px;white-space:nowrap;-webkit-text-stroke:0.55px currentColor;"><span style="margin:0 -0.06em 0 -0.07em">1</span>4.9 <span style="display:inline-block;transform:scaleX(0.8);transform-origin:0 0;margin-right:-0.178em">%</span></div>
<div class=t style="left:1324.60px;top:710.00px;color:#f5f3ef;font-family:'Liberation Sans',sans-serif;font-size:15.5px;line-height:15.5px;font-weight:400;letter-spacing:0.200px;white-space:nowrap;-webkit-text-stroke:0.4px currentColor;">Irish</div>
<div class=t style="left:1446.60px;top:710.00px;color:#aea39b;font-family:'Liberation Sans',sans-serif;font-size:15.3px;line-height:15.3px;font-weight:400;letter-spacing:-1.040px;white-space:nowrap;-webkit-text-stroke:0.55px currentColor;"><span style="margin:0 -0.06em 0 -0.07em">1</span><span style="margin:0 -0.06em 0 -0.07em">1</span>.7 <span style="display:inline-block;transform:scaleX(0.8);transform-origin:0 0;margin-right:-0.178em">%</span></div>
<div class=t style="left:1324.60px;top:742.00px;color:#f5f3ef;font-family:'Liberation Sans',sans-serif;font-size:15.5px;line-height:15.5px;font-weight:400;letter-spacing:-0.033px;white-space:nowrap;-webkit-text-stroke:0.4px currentColor;">Mexican</div>
<div class=t style="left:1446.60px;top:742.00px;color:#aea39b;font-family:'Liberation Sans',sans-serif;font-size:15.3px;line-height:15.3px;font-weight:400;letter-spacing:-0.900px;white-space:nowrap;-webkit-text-stroke:0.55px currentColor;">7.3 <span style="display:inline-block;transform:scaleX(0.8);transform-origin:0 0;margin-right:-0.178em">%</span></div>
<div class=t style="left:1325.60px;top:774.00px;color:#f5f3ef;font-family:'Liberation Sans',sans-serif;font-size:15.5px;line-height:15.5px;font-weight:400;letter-spacing:0.143px;white-space:nowrap;-webkit-text-stroke:0.4px currentColor;">American</div>
<div class=t style="left:1446.60px;top:774.00px;color:#aea39b;font-family:'Liberation Sans',sans-serif;font-size:15.3px;line-height:15.3px;font-weight:400;letter-spacing:-0.650px;white-space:nowrap;-webkit-text-stroke:0.55px currentColor;">4.3 <span style="display:inline-block;transform:scaleX(0.8);transform-origin:0 0;margin-right:-0.178em">%</span></div>
<div class=t style="left:1606.30px;top:646.00px;color:#f5f3ef;font-family:'Liberation Sans',sans-serif;font-size:15.5px;line-height:15.5px;font-weight:400;letter-spacing:0.200px;white-space:nowrap;-webkit-text-stroke:0.4px currentColor;">Non-adherent /</div>
<div class=t style="left:1607.30px;top:664.00px;color:#f5f3ef;font-family:'Liberation Sans',sans-serif;font-size:15.5px;line-height:15.5px;font-weight:400;letter-spacing:0.150px;white-space:nowrap;-webkit-text-stroke:0.4px currentColor;">Other</div>
<div class=t style="left:1728.30px;top:654.00px;color:#aea39b;font-family:'Liberation Sans',sans-serif;font-size:15.3px;line-height:15.3px;font-weight:400;letter-spacing:-0.760px;white-space:nowrap;-webkit-text-stroke:0.55px currentColor;">62.3 <span style="display:inline-block;transform:scaleX(0.8);transform-origin:0 0;margin-right:-0.178em">%</span></div>
<div class=t style="left:1606.30px;top:697.00px;color:#f5f3ef;font-family:'Liberation Sans',sans-serif;font-size:15.5px;line-height:15.5px;font-weight:400;letter-spacing:-0.080px;white-space:nowrap;-webkit-text-stroke:0.4px currentColor;">Evangelical</div>
<div class=t style="left:1606.30px;top:715.00px;color:#f5f3ef;font-family:'Liberation Sans',sans-serif;font-size:15.5px;line-height:15.5px;font-weight:400;letter-spacing:0.222px;white-space:nowrap;-webkit-text-stroke:0.4px currentColor;">Protestant</div>
<div class=t style="left:1728.30px;top:705.00px;color:#aea39b;font-family:'Liberation Sans',sans-serif;font-size:15.3px;line-height:15.3px;font-weight:400;letter-spacing:-0.800px;white-space:nowrap;-webkit-text-stroke:0.55px currentColor;"><span style="margin:0 -0.06em 0 -0.07em">1</span>6.9 <span style="display:inline-block;transform:scaleX(0.8);transform-origin:0 0;margin-right:-0.178em">%</span></div>
<div class=t style="left:1607.30px;top:748.00px;color:#f5f3ef;font-family:'Liberation Sans',sans-serif;font-size:15.5px;line-height:15.5px;font-weight:400;letter-spacing:0.029px;white-space:nowrap;-webkit-text-stroke:0.4px currentColor;">Catholic</div>
<div class=t style="left:1728.30px;top:748.00px;color:#aea39b;font-family:'Liberation Sans',sans-serif;font-size:15.3px;line-height:15.3px;font-weight:400;letter-spacing:-0.480px;white-space:nowrap;-webkit-text-stroke:0.55px currentColor;"><span style="margin:0 -0.06em 0 -0.07em">1</span>2.0 <span style="display:inline-block;transform:scaleX(0.8);transform-origin:0 0;margin-right:-0.178em">%</span></div>
<div class=t style="left:1607.30px;top:779.00px;color:#f5f3ef;font-family:'Liberation Sans',sans-serif;font-size:15.5px;line-height:15.5px;font-weight:400;letter-spacing:0.343px;white-space:nowrap;-webkit-text-stroke:0.4px currentColor;">Other tradition</div>
<div class=t style="left:1728.30px;top:779.00px;color:#aea39b;font-family:'Liberation Sans',sans-serif;font-size:15.3px;line-height:15.3px;font-weight:400;letter-spacing:-0.700px;white-space:nowrap;-webkit-text-stroke:0.55px currentColor;">5.9 <span style="display:inline-block;transform:scaleX(0.8);transform-origin:0 0;margin-right:-0.178em">%</span></div>
<div class=t style="left:1606.30px;top:810.00px;color:#f5f3ef;font-family:'Liberation Sans',sans-serif;font-size:15.5px;line-height:15.5px;font-weight:400;letter-spacing:-0.600px;white-space:nowrap;-webkit-text-stroke:0.4px currentColor;">LDS</div>
<div class=t style="left:1728.30px;top:810.00px;color:#aea39b;font-family:'Liberation Sans',sans-serif;font-size:15.3px;line-height:15.3px;font-weight:400;letter-spacing:-0.700px;white-space:nowrap;-webkit-text-stroke:0.55px currentColor;">3.9 <span style="display:inline-block;transform:scaleX(0.8);transform-origin:0 0;margin-right:-0.178em">%</span></div>
<div class=t style="left:1043.50px;top:849.00px;color:#f5f3ef;font-family:'Liberation Sans',sans-serif;font-size:17.2px;line-height:17.2px;font-weight:400;letter-spacing:0.326px;white-space:nowrap;-webkit-text-stroke:0.8px currentColor;">Economics &amp; Language</div>
<div class=t style="left:1058.60px;top:895.00px;color:#a89e96;font-family:'Liberation Sans',sans-serif;font-size:14.4px;line-height:14.4px;font-weight:400;letter-spacing:-0.253px;white-space:nowrap;-webkit-text-stroke:0.45px currentColor;">Median HH income</div>
<div class=t style="left:1059.60px;top:918.00px;color:#f5f3ef;font-family:'Liberation Sans',sans-serif;font-size:22.3px;line-height:22.3px;font-weight:400;letter-spacing:0.417px;white-space:nowrap;-webkit-text-stroke:1.0px currentColor;">$52,080</div>
<div class=t style="left:1271.50px;top:895.00px;color:#a89e96;font-family:'Liberation Sans',sans-serif;font-size:14.4px;line-height:14.4px;font-weight:400;letter-spacing:0.236px;white-space:nowrap;-webkit-text-stroke:0.45px currentColor;">Poverty rate</div>
<div class=t style="left:1271.50px;top:918.00px;color:#f5f3ef;font-family:'Liberation Sans',sans-serif;font-size:22.3px;line-height:22.3px;font-weight:400;letter-spacing:-0.600px;white-space:nowrap;-webkit-text-stroke:1.0px currentColor;">6.6 <span style="display:inline-block;transform:scaleX(0.8);transform-origin:0 0;margin-right:-0.178em">%</span></div>
<div class=t style="left:1484.40px;top:895.00px;color:#a89e96;font-family:'Liberation Sans',sans-serif;font-size:14.4px;line-height:14.4px;font-weight:400;letter-spacing:-0.186px;white-space:nowrap;-webkit-text-stroke:0.45px currentColor;">English at home</div>
<div class=t style="left:1485.40px;top:918.00px;color:#f5f3ef;font-family:'Liberation Sans',sans-serif;font-size:22.3px;line-height:22.3px;font-weight:400;letter-spacing:-0.080px;white-space:nowrap;-webkit-text-stroke:1.0px currentColor;">90.4 <span style="display:inline-block;transform:scaleX(0.8);transform-origin:0 0;margin-right:-0.178em">%</span></div>
<div class=t style="left:1698.30px;top:895.00px;color:#a89e96;font-family:'Liberation Sans',sans-serif;font-size:14.4px;line-height:14.4px;font-weight:400;letter-spacing:0.031px;white-space:nowrap;-webkit-text-stroke:0.45px currentColor;">Other language</div>
<div class=t style="left:1698.30px;top:918.00px;color:#f5f3ef;font-family:'Liberation Sans',sans-serif;font-size:22.3px;line-height:22.3px;font-weight:400;letter-spacing:-0.850px;white-space:nowrap;-webkit-text-stroke:1.0px currentColor;">9.6 <span style="display:inline-block;transform:scaleX(0.8);transform-origin:0 0;margin-right:-0.178em">%</span></div>
<div class=t style="left:1044.50px;top:1008.00px;color:#a0958e;font-family:'Liberation Sans',sans-serif;font-size:12.7px;line-height:12.7px;font-weight:400;letter-spacing:0.145px;white-space:nowrap;-webkit-text-stroke:0.4px currentColor;">Sources: Akashic Edge elections database <span style="margin:0 -0.09em">·</span> PL 94-<span style="margin:0 -0.06em 0 -0.07em">1</span>7<span style="margin:0 -0.06em 0 -0.07em">1</span> (2020) <span style="margin:0 -0.09em">·</span> ACS 5-yr B04006</div>
<div class=t style="left:1044.50px;top:1026.00px;color:#c8bfb7;font-family:'Liberation Sans',sans-serif;font-size:14.2px;line-height:14.2px;font-weight:400;letter-spacing:0.103px;white-space:nowrap;-webkit-text-stroke:0.45px currentColor;">akashicedge.com/counties/4<span style="margin:0 -0.06em 0 -0.07em">1</span>005</div>
<div class=t style="left:347.00px;top:648.00px;color:#b0a69e;font-family:'Liberation Sans',sans-serif;font-size:18.9px;line-height:18.9px;font-weight:400;letter-spacing:-0.622px;white-space:nowrap;-webkit-text-stroke:0.6px currentColor;">2024 <span style="margin:0 -0.09em">·</span> Harris D +9.8 <span style="margin:0 -0.09em">·</span> Dem 53.0 <span style="display:inline-block;transform:scaleX(0.8);transform-origin:0 0;margin-right:-0.178em">%</span> <span style="margin:0 -0.09em">·</span> Rep 43.2 <span style="display:inline-block;transform:scaleX(0.8);transform-origin:0 0;margin-right:-0.178em">%</span></div>
</body></html>
